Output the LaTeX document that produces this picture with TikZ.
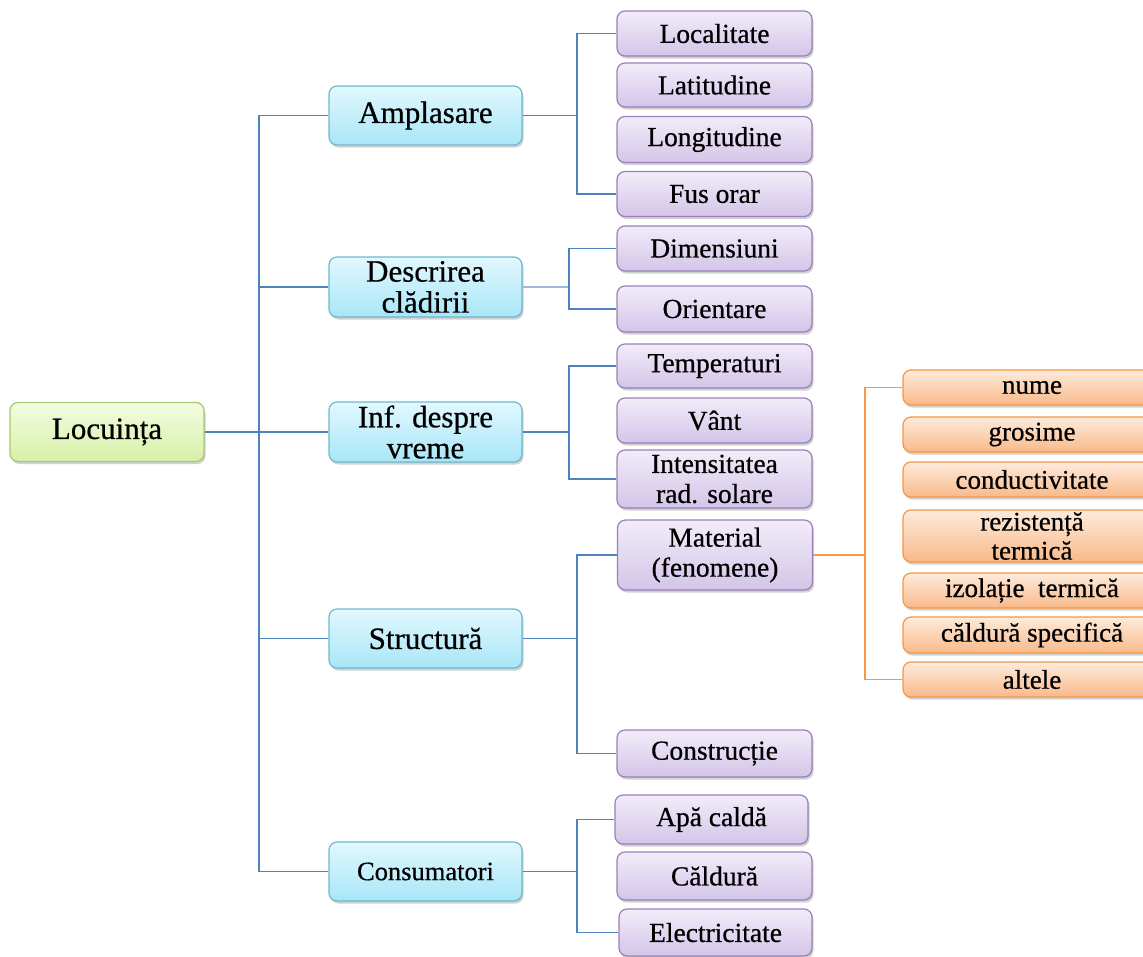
\documentclass[tikz,border=0pt]{standalone}
\usepackage{fontspec}
\setmainfont{Liberation Serif}[FakeBold=0.6]
\usetikzlibrary{shadows}
\definecolor{lineblue}{HTML}{4F81BD}
\definecolor{lineorange}{HTML}{F79646}
\definecolor{greenB}{HTML}{A9C96E}
\definecolor{greenT}{HTML}{F4FCE2}
\definecolor{greenBot}{HTML}{D6F0A6}
\definecolor{blueB}{HTML}{6CB8D0}
\definecolor{blueT}{HTML}{E2F8FE}
\definecolor{blueBot}{HTML}{A8E6F8}
\definecolor{purpB}{HTML}{9B7FBA}
\definecolor{purpT}{HTML}{F2ECF9}
\definecolor{purpBot}{HTML}{D3C5E8}
\definecolor{orB}{HTML}{F59640}
\definecolor{orT}{HTML}{FDEBDC}
\definecolor{orBot}{HTML}{F9B98A}
\tikzset{
  box/.style={rounded corners=8pt, draw, line width=1.2pt, inner sep=0pt, align=center,
    drop shadow={opacity=0.3, shadow xshift=1.5pt, shadow yshift=-2.5pt, fill=black!60}},
  rootbox/.style={box, draw=greenB, top color=greenT, bottom color=greenBot,
    minimum width=194pt, minimum height=59pt, font=\fontsize{31}{31}\selectfont},
  lonebox/.style={box, draw=blueB, top color=blueT, bottom color=blueBot,
    minimum width=193pt, minimum height=59pt, font=\fontsize{31}{31}\selectfont},
  purpbox/.style={box, draw=purpB, top color=purpT, bottom color=purpBot,
    minimum width=195pt, minimum height=45pt, font=\fontsize{27.5}{30}\selectfont},
  orbox/.style={box, draw=orB, top color=orT, bottom color=orBot,
    minimum width=258pt, minimum height=35pt, font=\fontsize{27}{29}\selectfont},
  bl/.style={draw=lineblue, line width=1.6pt},
  orl/.style={draw=lineorange, line width=1.6pt},
}
\begin{document}
\begin{tikzpicture}[x=1pt,y=-1pt]
\useasboundingbox (0,0) rectangle (1143,956);
% root and level 1
\node[rootbox] (root) at (107,432) {Locuința};
\node[lonebox] (amp) at (425.5,115.5) {Amplasare};
\node[lonebox, minimum height=60pt] (desc) at (425.5,287) {Descrirea\\clădirii};
\node[lonebox, minimum height=60pt] (inf) at (425.5,432) {Inf. despre\\vreme};
\node[lonebox] (str) at (425.5,638.5) {Structură};
\node[lonebox, font=\fontsize{26.5}{30}\selectfont] (cons) at (425.5,871.5) {Consumatori};
% purple
\node[purpbox] (loc) at (714.5,33.5) {Localitate};
\node[purpbox, minimum height=44pt] (lat) at (714.5,85) {Latitudine};
\node[purpbox, minimum height=46pt] (long) at (714.5,139.5) {Longitudine};
\node[purpbox] (fus) at (714.5,194) {Fus orar};
\node[purpbox] (dim) at (714.5,248.5) {Dimensiuni};
\node[purpbox, minimum height=46pt] (ori) at (714.5,309) {Orientare};
\node[purpbox, minimum height=44pt] (temp) at (714.5,366) {Temperaturi};
\node[purpbox] (vant) at (714.5,420.5) {Vânt};
\node[purpbox, minimum height=58pt] (intens) at (714.5,479) {Intensitatea\\rad. solare};
\node[purpbox, minimum height=70pt] (mat) at (715,555) {Material\\(fenomene)};
\node[purpbox, minimum height=47pt] (constr) at (714.5,753.5) {Construcție};
\node[purpbox, minimum width=193pt, minimum height=49pt] (apa) at (711.5,819.5) {Apă caldă};
\node[purpbox, minimum height=48pt] (cald) at (714.5,876) {Căldură};
\node[purpbox, minimum width=193pt, minimum height=47pt] (elec) at (715.5,932.5) {Electricitate};
% orange
\node[orbox] (nume) at (1032,387.5) {nume};
\node[orbox] (gros) at (1032,434.5) {grosime};
\node[orbox] (cond) at (1032,479.5) {conductivitate};
\node[orbox, minimum height=52pt] (rez) at (1032,536) {rezistență\\termică};
\node[orbox] (izo) at (1032,590.5) {izolație~ termică};
\node[orbox, minimum height=36pt] (spec) at (1032,635) {căldură specifică};
\node[orbox] (alt) at (1032,679.5) {altele};
% junctions
\coordinate (jt) at (259,432);
\coordinate (ja) at (577,115.5);
\coordinate (jd) at (569,287);
\coordinate (ji) at (569,432);
\coordinate (js) at (577,638.5);
\coordinate (jc) at (577,871.5);
\coordinate (jm) at (865,555);
% connectors
\draw[bl] (root.east) -- (inf.west);
\draw[bl] (amp.west) -| (jt) |- (cons.west);
\draw[bl] (desc.west) -- (desc.west -| jt);
\draw[bl] (str.west) -- (str.west -| jt);
\draw[bl] (amp.east) -- (ja);
\draw[bl] (loc.west) -| (ja) |- (fus.west);
\draw[draw=lineblue!55, line width=2.8pt] (desc.east) -- (jd);
\draw[bl] (dim.west) -| (jd) |- (ori.west);
\draw[bl] (inf.east) -- (ji);
\draw[bl] (temp.west) -| (ji) |- (intens.west);
\draw[bl] (str.east) -- (js);
\draw[bl] (mat.west) -| (js) |- (constr.west);
\draw[bl] (cons.east) -- (jc);
\draw[bl] (apa.west) -| (jc) |- (elec.west);
\draw[orl] (mat.east) -- (jm);
\draw[orl] (nume.west) -| (jm) |- (alt.west);
\end{tikzpicture}
\end{document}
